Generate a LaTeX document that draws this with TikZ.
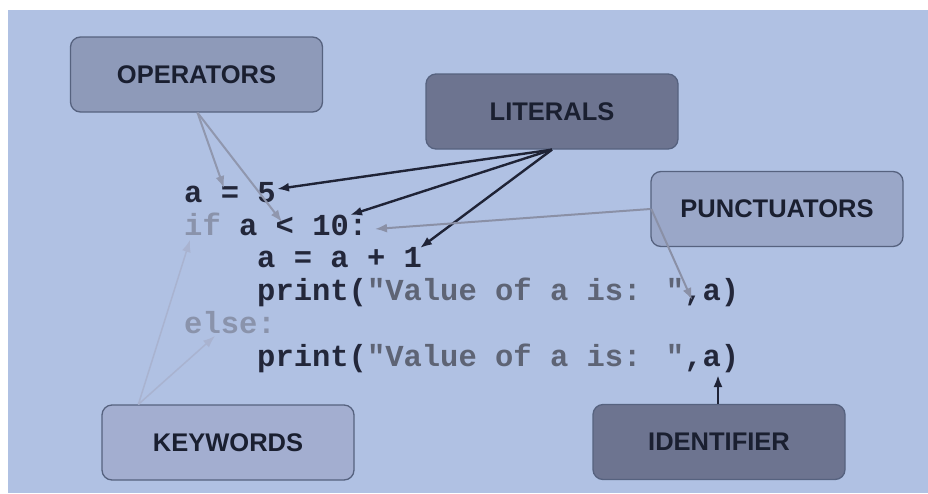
\documentclass[tikz,border=0pt]{standalone}
\usepackage{fontspec}
\setmainfont{Liberation Sans}
\newfontfamily\codefont{Liberation Mono}
\usetikzlibrary{arrows.meta,calc}
\definecolor{bgblue}{HTML}{B0C1E3}
\definecolor{boxedge}{HTML}{56627F}
\definecolor{opfill}{HTML}{8E9AB9}
\definecolor{darkfill}{HTML}{6D7490}
\definecolor{puncfill}{HTML}{9AA7C8}
\definecolor{kwfill}{HTML}{A3AED0}
\definecolor{boxtext}{HTML}{1A1F30}
\definecolor{codedark}{HTML}{23273A}
\definecolor{codekw}{HTML}{8A93AB}
\definecolor{codestr}{HTML}{5E6475}
\definecolor{oparrow}{HTML}{9097AE}
\definecolor{darkarrow}{HTML}{1F2336}
\definecolor{puncarrow}{HTML}{8A90A6}
\definecolor{kwarrow}{HTML}{A9B3D0}
\tikzset{
  label box/.style={draw=boxedge, line width=1.3pt, rounded corners=10pt,
    minimum width=252pt, minimum height=75pt, inner sep=0pt,
    text=boxtext, font=\fontsize{25.5}{29}\selectfont\bfseries},
  code/.style={anchor=base west, inner sep=0pt, text=codedark,
    font=\codefont\fontsize{30.5}{33}\selectfont\bfseries},
  arr/.style={-{Latex[length=12pt,width=9pt]}, line width=2.2pt},
  oparr/.style={arr, draw=oparrow, line width=2pt},
  litarr/.style={arr, draw=darkarrow, line width=2.4pt},
  puncarr/.style={arr, draw=puncarrow, line width=2pt},
  kwarr/.style={arr, draw=kwarrow, line width=1.5pt},
}
\begin{document}
\begin{tikzpicture}[x=1pt,y=-1pt]
\useasboundingbox (0,0) rectangle (928,493);
\fill[white] (0,0) rectangle (928,493);
\fill[bgblue] (8,10) rectangle (928,493);

% label boxes
\node[label box, fill=opfill] (op) at (196.5,74.5) {OPERATORS};
\node[label box, fill=darkfill] (lit) at (552,111.5) {LITERALS};
\node[label box, fill=puncfill] (punc) at (777,209) {PUNCTUATORS};
\node[label box, fill=kwfill] (kw) at (228,442.5) {KEYWORDS};
\node[label box, fill=darkfill] (id) at (719,442) {IDENTIFIER};

% code
\node[code] (l1) at (184,202) {a = 5};
\node[code] (l2) at (184,235) {\textcolor{codekw}{if} a < 10:};
\node[code] (l3) at (257,267) {a = a + 1};
\node[code] (l4) at (257,300) {print(\textcolor{codestr}{"Value of a is: "},a)};
\node[code] (l5) at (184,333) {\textcolor{codekw}{else:}};
\node[code] (l6) at (257,366) {print(\textcolor{codestr}{"Value of a is: "},a)};

% targets
\coordinate (tEq) at (224,188);
\coordinate (tLt) at (282,222);
\coordinate (tFive) at (277,189);
\coordinate (tTen) at (350,215);
\coordinate (tOne) at (420,248);
\coordinate (tColon) at (375,229);
\coordinate (tComma) at (692,300);
\coordinate (tIf) at (190,240);
\coordinate (tElse) at (215,336);
\coordinate (tA) at (718,375);

% connectors
\draw[oparr] ([xshift=1pt]op.south) -- (tEq);
\draw[oparr] ([xshift=1pt]op.south) -- (tLt);
\draw[litarr] (lit.south) -- (tFive);
\draw[litarr] (lit.south) -- (tTen);
\draw[litarr] (lit.south) -- (tOne);
\draw[puncarr] (punc.west) -- (tColon);
\draw[puncarr] ([xshift=1pt]punc.west) -- (tComma);
\draw[kwarr] ([xshift=37pt]kw.north west) -- (tIf);
\draw[kwarr] ([xshift=37pt]kw.north west) -- (tElse);
\draw[litarr] ([xshift=-1pt]id.north) -- (tA);
\end{tikzpicture}
\end{document}
